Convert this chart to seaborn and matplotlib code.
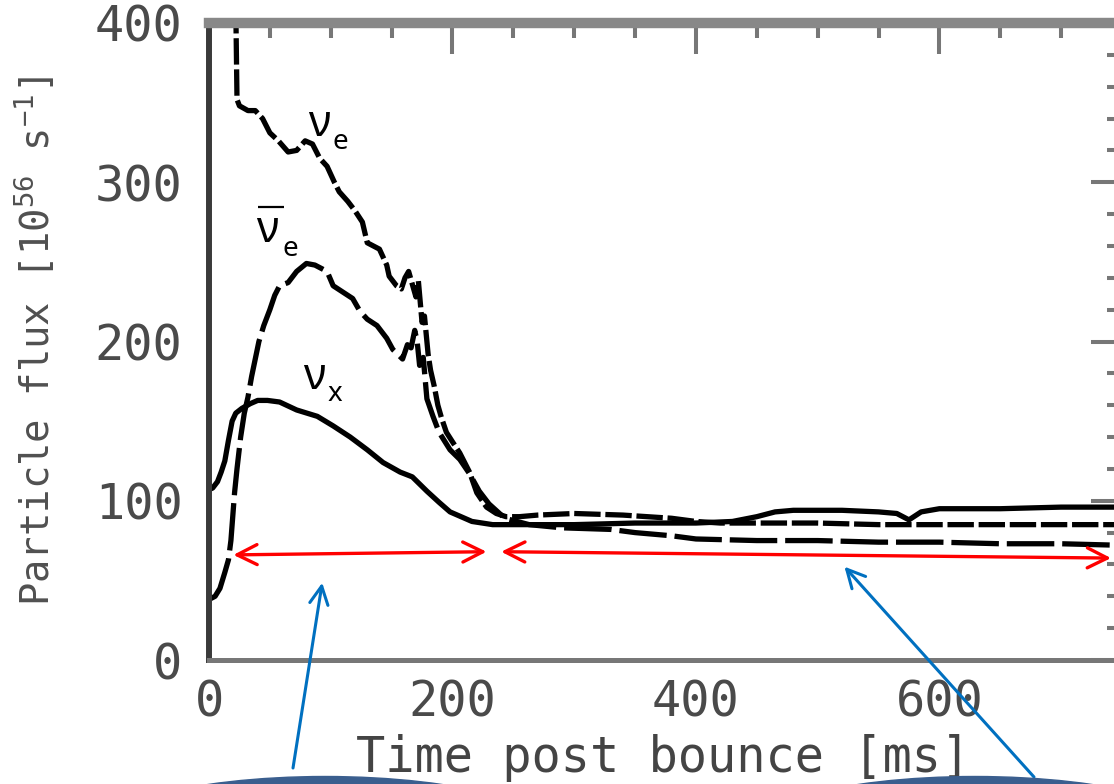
import matplotlib
matplotlib.use("Agg")
import matplotlib.pyplot as plt
import seaborn as sns
import pandas as pd
from matplotlib.patches import Ellipse
from matplotlib.transforms import IdentityTransform
from matplotlib.ticker import MultipleLocator

# Neutrino number fluxes, time post bounce [ms] vs particle flux [10^56 / s]
t_nue = [22, 23, 25, 32, 38, 44, 50, 57, 65, 72, 79, 85, 91, 97, 103, 107, 114, 120,
         126, 130, 135, 140, 146, 148, 154, 158, 161, 164, 167, 170, 172, 175, 177,
         180, 182, 185, 188, 191, 195, 200, 206, 214, 220, 228, 236, 244, 255, 270,
         300, 340, 380, 400, 420, 450, 500, 550, 600, 650, 700, 750]
f_nue = [410, 352, 348, 345, 345, 340, 331, 326, 319, 320, 326, 324, 315, 310, 300,
         294, 288, 282, 275, 262, 260, 258, 248, 241, 235, 233, 240, 244, 236, 228,
         238, 212, 216, 192, 182, 172, 160, 152, 143, 137, 130, 118, 105, 96, 92, 90,
         90, 91, 92, 91, 89, 87, 86, 86, 86, 85, 85, 85, 85, 85]

t_anue = [0, 5, 9, 13, 16, 18, 20, 21, 23, 26, 29, 32, 35, 38, 41, 45, 50, 54, 58,
          65, 72, 80, 87, 97, 102, 110, 118, 124, 130, 138, 146, 151, 159, 163, 166,
          169, 171, 173, 176, 179, 184, 189, 198, 206, 214, 222, 230, 243, 263, 290,
          330, 350, 380, 400, 450, 500, 550, 600, 650, 700, 750]
f_anue = [38, 40, 45, 55, 63, 75, 95, 105, 120, 140, 155, 165, 178, 189, 200, 210,
          220, 229, 235, 237, 244, 249, 248, 244, 235, 231, 227, 219, 214, 210, 202,
          195, 189, 198, 196, 207, 200, 185, 190, 164, 153, 143, 132, 126, 117, 106,
          98, 89, 85, 83, 82, 80, 78, 76, 75, 75, 74, 74, 73, 73, 72]

t_nux = [0, 3, 7, 10, 13, 16, 19, 22, 27, 34, 40, 48, 58, 72, 89, 102, 116, 130, 143,
         157, 167, 179, 189, 198, 216, 233, 260, 300, 350, 400, 430, 450, 465, 480,
         520, 550, 565, 575, 585, 600, 650, 700, 750]
f_nux = [107, 108, 112, 118, 125, 138, 150, 155, 158, 161, 163, 163, 162, 157, 153,
         147, 140, 132, 124, 118, 115, 106, 99, 93, 87, 85, 85, 85, 86, 86, 87, 90,
         93, 94, 94, 93, 92, 88, 93, 95, 95, 96, 96]

x_ticks = [0, 200, 400, 600]
y_ticks = [0, 100, 200, 300, 400]

sns.set_style("white")
plt.rcParams["font.family"] = ["DejaVu Sans Mono", "DejaVu Sans"]
plt.rcParams["mathtext.fontset"] = "custom"
plt.rcParams["mathtext.rm"] = "DejaVu Sans Mono"
plt.rcParams["mathtext.it"] = "DejaVu Sans Mono"
plt.rcParams["mathtext.default"] = "rm"

W, H = 1114, 784
fig = plt.figure(figsize=(W / 100, H / 100), dpi=100)
fig.patch.set_facecolor("white")
ax = fig.add_axes([209 / W, (H - 660) / H, 913 / W, 637 / H])

lw = 3.8
sns.lineplot(x=t_nux, y=f_nux, ax=ax, color="black", linewidth=lw, sort=False,
             estimator=None)
sns.lineplot(x=t_nue, y=f_nue, ax=ax, color="black", linewidth=lw, sort=False,
             estimator=None, linestyle=(0, (5, 0.9)))
sns.lineplot(x=t_anue, y=f_anue, ax=ax, color="black", linewidth=lw, sort=False,
             estimator=None, linestyle=(0, (9, 1.5)))

ax.set_xlim(0, 750)
ax.set_ylim(0, 400)
ax.set_xticks(x_ticks)
ax.set_yticks(y_ticks)
ax.xaxis.set_minor_locator(MultipleLocator(50))
ax.yaxis.set_minor_locator(MultipleLocator(20))
tick_col = "#777777"
ax.tick_params(which="both", direction="in", top=True, right=True,
               color=tick_col, width=2.9)
ax.tick_params(which="major", length=22)
ax.tick_params(which="minor", length=11)
ax.tick_params(axis="x", labelsize=35, labelcolor="#4a4a4a", pad=13)
ax.tick_params(axis="y", labelsize=35, labelcolor="#4a4a4a", pad=19)

ax.spines["left"].set_color("#3a3a3a")
ax.spines["left"].set_linewidth(4.3)
ax.spines["bottom"].set_color("#777777")
ax.spines["bottom"].set_linewidth(3.6)
ax.spines["top"].set_color("#888888")
ax.spines["top"].set_linewidth(7.5)
ax.spines["right"].set_color("#777777")
ax.spines["right"].set_linewidth(3.6)

ax.set_xlabel("Time post bounce [ms]", fontsize=35, color="#444444")
ax.xaxis.set_label_coords(0.497, -0.116)
ax.set_ylabel("Particle flux [10$^{56}$ s$^{-1}$]", fontsize=28, color="#505050")
ax.yaxis.set_label_coords(-0.165, 0.5)

# species labels
lab = dict(color="black", family=["Noto Sans", "DejaVu Sans"], ha="left",
           va="baseline")
ax.text(81, 329, "ν", fontsize=31, **lab)
ax.text(101.5, 321, "e", fontsize=20, **lab)
ax.text(39, 262.5, "ν", fontsize=31, **lab)
ax.text(60.5, 254, "e", fontsize=20, **lab)
ax.plot([40, 62], [284.5, 284.5], color="black", lw=1.6, solid_capstyle="butt")
ax.text(77, 170, "ν", fontsize=31, **lab)
ax.text(97.5, 162.5, "x", fontsize=20, **lab)

# phase markers
red = "#ff0000"
red_style = "<->,head_length=0.72,head_width=0.36"
ax.annotate("", xy=(228, 68), xytext=(20, 66), annotation_clip=False,
            arrowprops=dict(arrowstyle=red_style, color=red, lw=2.4,
                            shrinkA=0, shrinkB=0, mutation_scale=20))
ax.annotate("", xy=(741, 64), xytext=(240, 68), annotation_clip=False,
            arrowprops=dict(arrowstyle=red_style, color=red, lw=2.4,
                            shrinkA=0, shrinkB=0, mutation_scale=20))

# callout bubbles below the axis
bubble = "#3a5e8e"
for cx in (325, 975):
    fig.add_artist(Ellipse((cx, H - 845), 500, 137, transform=IdentityTransform(),
                           facecolor=bubble, edgecolor=bubble, zorder=1))

blue = "#0070c0"
blue_style = "->,head_length=0.65,head_width=0.33"
ax.annotate("", xy=(93, 48.5), xytext=(293, H - 768), textcoords="figure pixels",
            annotation_clip=False,
            arrowprops=dict(arrowstyle=blue_style, color=blue, lw=2.2,
                            shrinkA=0, shrinkB=0, mutation_scale=20))
ax.annotate("", xy=(522, 58.6), xytext=(1034, H - 777), textcoords="figure pixels",
            annotation_clip=False,
            arrowprops=dict(arrowstyle=blue_style, color=blue, lw=2.2,
                            shrinkA=0, shrinkB=0, mutation_scale=20))

fig.savefig("out.png", dpi=100)
